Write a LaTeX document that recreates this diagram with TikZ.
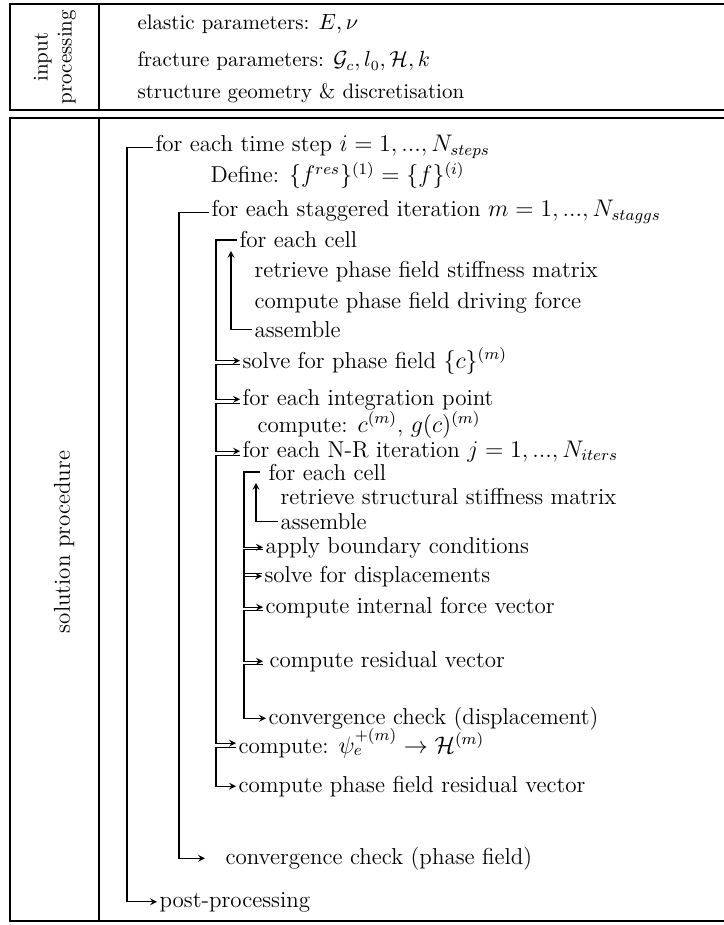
\documentclass[tikz,border=0pt]{standalone}
\usepackage{amsmath}

\begin{document}
\begin{tikzpicture}[x=0.5pt, y=-0.5pt, >=stealth, line width=0.55pt,
    frame/.style={line width=1pt},
    inp/.style={anchor=base west, inner sep=1pt, font=\fontsize{10.5}{12.5}\selectfont},
    item/.style={anchor=base west, inner sep=1pt, font=\fontsize{11.5}{13.5}\selectfont}]
    \useasboundingbox (0,0) rectangle (723,925);

    % the two boxes
    \draw[frame] (10,4) rectangle (760,110);
    \draw[frame] (99,4) -- (99,110);
    \draw[frame] (10,118) rectangle (760,921);
    \draw[frame] (99,118) -- (99,921);

    \node[rotate=90, align=center, font=\fontsize{10.5}{12}\selectfont] (inlab) at (55,57) {input\\processing};
    \node[inp] (elast) at (135,30) {elastic parameters: $E,\nu$};
    \node[inp] (fract) at (135,67) {fracture parameters: $\mathcal{G}_c, l_0, \mathcal{H}, k$};
    \node[inp] (geom) at (135,99) {structure geometry \& discretisation};

    \node[rotate=90, font=\fontsize{11.5}{13.5}\selectfont] (sollab) at (64,542) {solution procedure};

    % time loop
    \node[item] (tstep) at (153,152) {for each time step $i=1,...,N_{steps}$};
    \node[item] (define) at (208,183) {Define: $\{f^{res}\}^{(1)}=\{f\}^{(i)}$};
    \node[item] (stagg) at (209,217) {for each staggered iteration $m=1,...,N_{staggs}$};

    % phase field problem
    \node[item] (pfcell) at (237,248) {for each cell};
    \node[item] (pfstiff) at (252,278) {retrieve phase field stiffness matrix};
    \node[item] (pfforce) at (252,308) {compute phase field driving force};
    \node[item] (pfasm) at (252,337) {assemble};
    \node[item] (pfsolve) at (240,368) {solve for phase field $\{c\}^{(m)}$};
    \node[item] (intpt) at (240,405) {for each integration point};
    \node[item] (intcomp) at (255,432) {compute: $c^{(m)}$, $g(c)^{(m)}$};

    % displacement problem
    \node[item] (nr) at (240,457) {for each N-R iteration $j=1,...,N_{iters}$};
    \node[item] (ucell) at (266,480) {for each cell};
    \node[item] (ustiff) at (278,504) {retrieve structural stiffness matrix};
    \node[item] (uasm) at (278,529) {assemble};
    \node[item] (bc) at (263,553) {apply boundary conditions};
    \node[item] (usolve) at (262,582) {solve for displacements};
    \node[item] (fint) at (263,613) {compute internal force vector};
    \node[item] (resid) at (267,667) {compute residual vector};
    \node[item] (uconv) at (266,724) {convergence check (displacement)};

    \node[item] (hist) at (236,753) {compute: $\psi_e^{+(m)}\rightarrow\mathcal{H}^{(m)}$};
    \node[item] (pfres) at (236,792) {compute phase field residual vector};
    \node[item] (pfconv) at (223,864) {convergence check (phase field)};
    \node[item] (post) at (157,907) {post-processing};

    % connectors
    \draw[->] (tstep.west) -- ++(-26,0) |- (post.west);
    \draw[->] (stagg.west) -- ++(-30,0) |- ([xshift=-9pt]pfconv.west);

    \draw[->] (pfcell.west) -- ++(-21,0) |- (pfsolve.west);
    \draw[->] (pfasm.west) -| ([xshift=-3pt]pfcell.south west);
    \draw[->] ([yshift=-2pt]pfsolve.west) -- ++(-24,0) |- (intpt.west);
    \draw[->] ([yshift=-2pt]intpt.west) -- ++(-24,0) |- (nr.west);
    \draw[->] ([yshift=-2pt]nr.west) -- ++(-24,0) |- (hist.west);
    \draw[->] ([yshift=-2pt]hist.west) -- ++(-20,0) |- (pfres.west);

    \draw[->] ([xshift=-3pt]ucell.west) -- ++(-16,0) |- (bc.west);
    \draw[->] (uasm.west) -| ([xshift=-5pt]ucell.south west);
    \draw[->] ([yshift=-1pt]bc.west) -- ++(-19,0) |- (usolve.west);
    \draw[->] ([yshift=1.5pt]usolve.west) -- ++(-18,0) |- (fint.west);
    \draw[->] ([yshift=-1.5pt]fint.west) -- ++(-19,0) |- ([xshift=-2pt]resid.west);
    \draw[->] ([yshift=-1.5pt,xshift=-2pt]resid.west) -- ++(-19,0) |- (uconv.west);
\end{tikzpicture}
\end{document}
